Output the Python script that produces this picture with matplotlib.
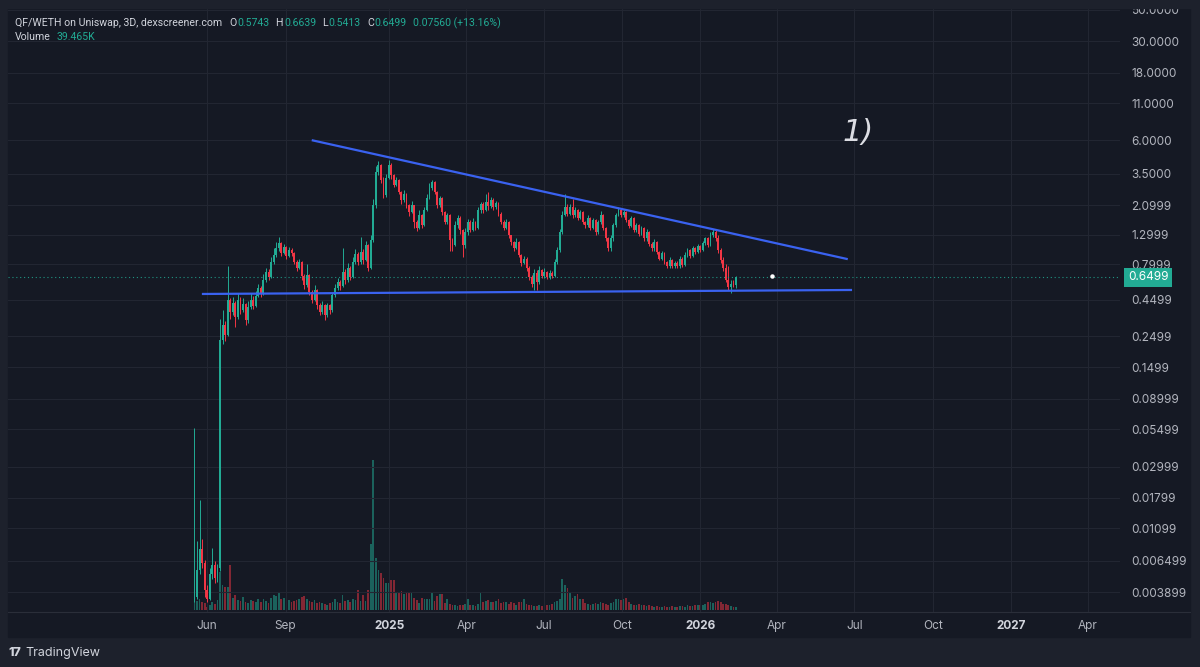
import matplotlib
matplotlib.use("Agg")
import matplotlib.pyplot as plt
import matplotlib.dates as mdates
import matplotlib.transforms as mtransforms
from matplotlib.patches import Rectangle
from matplotlib.lines import Line2D
from matplotlib.ticker import NullLocator, NullFormatter
import pandas as pd

# QF/WETH 3D candles
start_date = "2024-05-17"
first_open = 0.0034

closes = [
    0.0036, 0.0056, 0.0078, 0.0063, 0.0040, 0.0035, 0.0052, 0.0061, 0.0049, 0.0058,
    0.235, 0.30, 0.254, 0.449, 0.37, 0.43, 0.34, 0.449, 0.38, 0.42,
    0.325, 0.40, 0.449, 0.41, 0.48, 0.545, 0.50, 0.622, 0.71, 0.65,
    0.83, 0.93, 1.04, 1.13, 0.96, 1.06, 0.92, 1.01, 0.96, 0.83,
    0.76, 0.83, 0.66, 0.573, 0.674, 0.51, 0.449, 0.528, 0.414, 0.37,
    0.414, 0.352, 0.414, 0.38, 0.487, 0.545, 0.60, 0.565, 0.71, 0.622,
    0.76, 0.65, 0.83, 0.95, 0.83, 0.98, 0.86, 1.10, 0.76, 1.19,
    2.10, 3.6, 4.03, 3.16, 2.47, 3.27, 4.03, 3.42, 2.91, 3.16,
    2.59, 2.28, 2.52, 2.10, 1.88, 2.10, 1.60, 1.45, 1.79, 1.52,
    1.94, 2.35, 2.78, 3.05, 2.59, 2.10, 2.35, 1.88, 1.60, 1.79,
    1.19, 1.10, 1.52, 1.70, 1.40, 1.10, 1.35, 1.60, 1.40, 1.60,
    1.45, 1.94, 2.13, 1.94, 2.21, 2.07, 2.28, 2.02, 2.16, 1.82,
    1.60, 1.45, 1.60, 1.28, 1.15, 1.04, 1.15, 0.93, 0.82, 0.88,
    0.76, 0.65, 0.58, 0.70, 0.60, 0.731, 0.66, 0.71, 0.65, 0.70,
    0.66, 0.83, 1.01, 1.36, 1.79, 2.02, 1.82, 2.02, 1.79, 1.94,
    1.70, 1.88, 1.60, 1.52, 1.70, 1.45, 1.65, 1.36, 1.60, 1.79,
    1.45, 1.22, 1.04, 1.22, 1.52, 1.79, 1.94, 1.79, 1.88, 1.65,
    1.50, 1.70, 1.40, 1.52, 1.31, 1.45, 1.22, 1.36, 1.12, 1.04,
    1.15, 0.98, 0.88, 0.96, 0.83, 0.78, 0.86, 0.78, 0.82, 0.78,
    0.88, 0.793, 0.93, 1.01, 0.92, 1.04, 0.98, 1.08, 1.01, 1.13,
    1.22, 1.10, 1.29, 1.36, 1.22, 1.01, 0.86, 0.76, 0.622, 0.555,
    0.58, 0.5743, 0.6499,
]

highs = [
    0.056, 0.0090, 0.0174, 0.0092, 0.0066, 0.0044, 0.0058, 0.0080, 0.0065, 0.0062,
    0.33, 0.38, 0.32, 0.78, 0.46, 0.47, 0.44, 0.50, 0.47, 0.46,
    0.43, 0.44, 0.50, 0.48, 0.52, 0.58, 0.56, 0.68, 0.76, 0.74,
    0.90, 1.05, 1.15, 1.25, 1.15, 1.12, 1.08, 1.06, 1.04, 0.98,
    0.86, 0.88, 0.85, 0.68, 0.80, 0.69, 0.53, 0.57, 0.54, 0.43,
    0.44, 0.42, 0.43, 0.42, 0.50, 0.58, 0.64, 0.62, 1.05, 0.74,
    0.82, 0.78, 0.90, 1.02, 0.98, 1.25, 1.02, 1.18, 1.12, 1.30,
    2.30, 3.95, 4.30, 4.10, 3.30, 3.45, 4.37, 4.15, 3.50, 3.30,
    3.20, 2.65, 2.70, 2.55, 2.15, 2.25, 2.10, 1.65, 1.95, 1.82,
    2.05, 2.50, 3.00, 3.16, 3.10, 2.65, 2.45, 2.40, 1.92, 1.85,
    1.82, 1.22, 1.62, 1.78, 1.75, 1.42, 1.45, 1.68, 1.65, 1.70,
    1.62, 2.05, 2.20, 2.20, 2.50, 2.59, 2.40, 2.35, 2.25, 2.20,
    1.86, 1.65, 1.66, 1.62, 1.30, 1.18, 1.22, 1.17, 0.95, 0.92,
    0.90, 0.78, 0.67, 0.74, 0.73, 0.78, 0.74, 0.75, 0.72, 0.73,
    0.72, 0.88, 1.06, 1.42, 1.90, 2.50, 2.15, 2.12, 2.30, 2.02,
    1.98, 1.95, 1.90, 1.62, 1.78, 1.72, 1.70, 1.68, 1.65, 1.90,
    1.82, 1.48, 1.25, 1.30, 1.58, 1.85, 2.05, 2.00, 1.95, 1.92,
    1.68, 1.75, 1.72, 1.58, 1.55, 1.50, 1.48, 1.42, 1.38, 1.15,
    1.20, 1.17, 1.00, 1.00, 0.98, 0.85, 0.90, 0.88, 0.84, 0.84,
    0.92, 0.90, 0.98, 1.05, 1.03, 1.08, 1.06, 1.12, 1.10, 1.18,
    1.25, 1.25, 1.35, 1.42, 1.42, 1.28, 1.05, 0.90, 0.80, 0.78,
    0.62, 0.62, 0.6639,
]

lows = [
    0.0033, 0.0035, 0.0052, 0.0058, 0.0036, 0.0033, 0.0034, 0.0048, 0.0045, 0.0046,
    0.0055, 0.22, 0.23, 0.25, 0.33, 0.35, 0.29, 0.33, 0.36, 0.37,
    0.30, 0.31, 0.39, 0.39, 0.40, 0.47, 0.47, 0.49, 0.60, 0.62,
    0.64, 0.80, 0.90, 1.00, 0.92, 0.94, 0.88, 0.90, 0.92, 0.80,
    0.72, 0.74, 0.62, 0.54, 0.55, 0.49, 0.43, 0.44, 0.39, 0.35,
    0.36, 0.325, 0.34, 0.36, 0.37, 0.47, 0.53, 0.53, 0.55, 0.58,
    0.60, 0.62, 0.64, 0.81, 0.79, 0.80, 0.81, 0.85, 0.72, 0.74,
    1.15, 2.00, 3.40, 3.00, 2.35, 2.40, 3.20, 3.20, 2.80, 2.85,
    2.50, 2.15, 2.20, 2.00, 1.75, 1.85, 1.45, 1.38, 1.42, 1.45,
    1.50, 1.90, 2.30, 2.70, 2.50, 2.00, 2.05, 1.80, 1.55, 1.55,
    1.00, 1.00, 1.08, 1.45, 1.32, 0.90, 1.05, 1.30, 1.35, 1.38,
    1.40, 1.42, 1.85, 1.85, 1.90, 1.95, 2.00, 1.95, 1.98, 1.75,
    1.55, 1.40, 1.42, 1.22, 1.10, 1.00, 1.02, 0.90, 0.78, 0.80,
    0.72, 0.62, 0.55, 0.53, 0.53, 0.58, 0.64, 0.64, 0.63, 0.63,
    0.64, 0.65, 0.80, 0.98, 1.32, 1.75, 1.75, 1.80, 1.70, 1.72,
    1.65, 1.66, 1.55, 1.45, 1.48, 1.40, 1.42, 1.30, 1.32, 1.55,
    1.40, 1.18, 1.00, 1.00, 1.18, 1.48, 1.75, 1.72, 1.72, 1.60,
    1.45, 1.46, 1.35, 1.36, 1.26, 1.28, 1.18, 1.18, 1.08, 1.00,
    1.00, 0.95, 0.86, 0.86, 0.80, 0.76, 0.76, 0.76, 0.76, 0.75,
    0.76, 0.77, 0.78, 0.90, 0.89, 0.90, 0.95, 0.96, 0.98, 0.99,
    1.10, 1.06, 1.08, 1.25, 1.18, 0.97, 0.82, 0.72, 0.60, 0.53,
    0.50, 0.55, 0.5413,
]

# volume in thousands
volumes_k = [
    100, 120, 150, 110, 95, 40, 60, 110, 80, 130,
    500, 330, 300, 304, 594, 160, 200, 130, 120, 170,
    110, 95, 130, 120, 105, 140, 100, 150, 120, 90,
    160, 200, 190, 230, 140, 160, 110, 130, 100, 120,
    130, 150, 170, 190, 140, 120, 100, 130, 95, 110,
    90, 80, 70, 90, 110, 140, 100, 95, 200, 120,
    130, 110, 140, 130, 264, 120, 200, 119, 264, 871,
    1980, 686, 528, 488, 420, 356, 360, 396, 390, 224,
    224, 251, 211, 224, 224, 224, 158, 132, 92, 158,
    145, 145, 145, 224, 119, 185, 211, 211, 92, 145,
    79, 70, 60, 55, 70, 65, 80, 145, 70, 60,
    55, 80, 238, 110, 120, 130, 110, 100, 120, 145,
    90, 100, 110, 85, 100, 90, 70, 100, 110, 145,
    80, 70, 60, 55, 50, 60, 55, 45, 60, 70,
    80, 100, 119, 150, 409, 330, 290, 238, 160, 185,
    211, 150, 140, 90, 80, 70, 85, 90, 75, 100,
    90, 80, 70, 90, 100, 145, 145, 130, 145, 160,
    110, 80, 70, 60, 75, 70, 60, 55, 70, 50,
    45, 50, 40, 45, 50, 40, 45, 50, 40, 45,
    55, 50, 45, 60, 55, 50, 60, 70, 65, 60,
    80, 110, 100, 90, 110, 120, 100, 80, 75, 60,
    55, 45, 39.465,
]

price_ticks = [50, 30, 18, 11, 6, 3.5, 2.0999, 1.2999, 0.7999, 0.4499, 0.2499, 0.1499,
               0.08999, 0.05499, 0.02999, 0.01799, 0.01099, 0.006499, 0.003899]
price_tick_labels = ["50.0000", "30.0000", "18.0000", "11.0000", "6.0000", "3.5000", "2.0999",
                     "1.2999", "0.7999", "0.4499", "0.2499", "0.1499", "0.08999", "0.05499",
                     "0.02999", "0.01799", "0.01099", "0.006499", "0.003899"]
date_ticks = ["2024-06-01", "2024-09-01", "2025-01-01", "2025-04-01", "2025-07-01", "2025-10-01",
              "2026-01-01", "2026-04-01", "2026-07-01", "2026-10-01", "2027-01-01", "2027-04-01"]
date_tick_labels = ["Jun", "Sep", "2025", "Apr", "Jul", "Oct", "2026", "Apr", "Jul", "Oct", "2027", "Apr"]

# drawn trend lines
upper_line_dates = ["2024-10-03", "2026-06-22"]
upper_line_prices = [6.0, 0.875]
lower_line_dates = ["2024-05-27", "2026-06-27"]
lower_line_prices = [0.495, 0.528]
dot_date, dot_price = "2026-03-26", 0.66
note_date, note_price = "2026-07-06", 6.8

x_range = ["2023-10-11", "2027-05-09"]
price_range = [0.00282, 51.6]
volume_range = [-26, 7950]

# colours
frame_c = "#1d212c"
pane_c = "#151924"
grid_c = "#222632"
up_c = "#22ab94"
down_c = "#f23645"
text_c = "#d1d4dc"
axis_c = "#b2b5be"
line_c = "#3a62f0"

plt.rcParams["font.family"] = ["Inter", "DejaVu Sans"]

W, H = 1200, 667


def frac(x, y, w, h):
    # pixel box (top-left origin) -> figure fraction rect
    return [x / W, 1 - (y + h) / H, w / W, h / H]


fig = plt.figure(figsize=(12, 6.67), dpi=100, facecolor=frame_c)
fig.patches.append(Rectangle(frac(8, 8, 1182, 629)[:2], 1182 / W, 629 / H,
                             transform=fig.transFigure, color=pane_c, zorder=-5))

rect = frac(8, 8, 1112, 604)
vax = fig.add_axes(rect)
ax = fig.add_axes(rect, sharex=vax)
ax.set_facecolor("none")
vax.axis("off")

dates = pd.date_range(start_date, periods=len(closes), freq="3D")
x = mdates.date2num(dates)
opens = [first_open] + closes[:-1]
colors = [up_c if c >= o else down_c for o, c in zip(opens, closes)]

# volume underneath
vax.bar(x, volumes_k, width=2.0, color=colors, alpha=0.5, linewidth=0)
vax.set_ylim(volume_range)

# candles
ax.vlines(x, lows, highs, colors=colors, linewidth=0.7)
ax.bar(x, [abs(c - o) for o, c in zip(opens, closes)],
       bottom=[min(o, c) for o, c in zip(opens, closes)],
       width=2.2, color=colors, linewidth=0)

ax.set_yscale("log")
ax.set_ylim(price_range)
ax.set_xlim(mdates.date2num(pd.to_datetime(x_range)))

ax.plot(mdates.date2num(pd.to_datetime(upper_line_dates)), upper_line_prices, color=line_c, lw=1.6)
ax.plot(mdates.date2num(pd.to_datetime(lower_line_dates)), lower_line_prices, color=line_c, lw=1.6)
ax.axhline(closes[-1], color=up_c, lw=0.8, ls=(0, (1, 2.5)), alpha=0.85)
ax.plot(mdates.date2num(pd.Timestamp(dot_date)), dot_price, "o", color="white", ms=2.2)
ax.text(mdates.date2num(pd.Timestamp(note_date)), note_price, "1)", color="#dcdde3",
        fontsize=22, style="italic", fontweight="light", ha="center", va="center",
        family="DejaVu Sans")

# axes styling
ax.set_yticks(price_ticks)
ax.set_yticklabels(price_tick_labels)
ax.yaxis.set_minor_locator(NullLocator())
ax.yaxis.set_minor_formatter(NullFormatter())
ax.yaxis.tick_right()
ax.tick_params(axis="y", length=0, pad=8, colors=axis_c, labelsize=8.5)
ax.set_xticks(mdates.date2num(pd.to_datetime(date_ticks)))
ax.set_xticklabels(date_tick_labels)
ax.tick_params(axis="x", length=0, pad=6, colors=axis_c, labelsize=8.5)
for lab in ax.get_xticklabels():
    if lab.get_text().isdigit():
        lab.set_fontweight("bold")
        lab.set_color(text_c)
ax.grid(True, color=grid_c, lw=0.8)
ax.set_axisbelow(True)
for s in ax.spines.values():
    s.set_visible(False)

# current price tag
tr = mtransforms.blended_transform_factory(ax.transAxes, ax.transData)
ax.text(1 + 8 / 1112, closes[-1], "0.6499", transform=tr, color="white", fontsize=8.5,
        ha="left", va="center", clip_on=False,
        bbox=dict(boxstyle="square,pad=0.3", fc=up_c, ec="none"))

# separator of time axis and top edge cover
fig.lines.append(Line2D([8 / W, 1190 / W], [1 - 612 / H] * 2, transform=fig.transFigure,
                        color="#2a2e39", lw=0.8))
fig.patches.append(Rectangle((0, 1 - 8 / H), 1, 8 / H, transform=fig.transFigure,
                             color=frame_c, zorder=10))

# legend rows
renderer = fig.canvas.get_renderer()


def put_row(x0, y0, parts, size):
    xp = x0
    for s, c, gap in parts:
        t = fig.text(xp / W, 1 - y0 / H, s, color=c, fontsize=size, va="center", ha="left",
                     family=["Roboto", "DejaVu Sans"])
        bb = t.get_window_extent(renderer=renderer)
        xp += bb.width + gap


put_row(15, 23, [
    ("QF/WETH on Uniswap, 3D, dexscreener.com", text_c, 7),
    ("O", text_c, 1), ("0.5743", up_c, 6),
    ("H", text_c, 1), ("0.6639", up_c, 6),
    ("L", text_c, 1), ("0.5413", up_c, 6),
    ("C", text_c, 1), ("0.6499", up_c, 6),
    ("0.07560 (+13.16%)", up_c, 0),
], 7.6)
put_row(15, 37, [("Volume", text_c, 6), ("39.465K", up_c, 0)], 7.6)

# TradingView mark
fig.text(8 / W, 1 - 653 / H, "17", color=text_c, fontsize=9, fontweight="heavy",
         va="center", ha="left")
fig.text(25 / W, 1 - 653 / H, "TradingView", color=text_c, fontsize=9, va="center", ha="left")

fig.savefig("out.png", dpi=100, facecolor=fig.get_facecolor())
